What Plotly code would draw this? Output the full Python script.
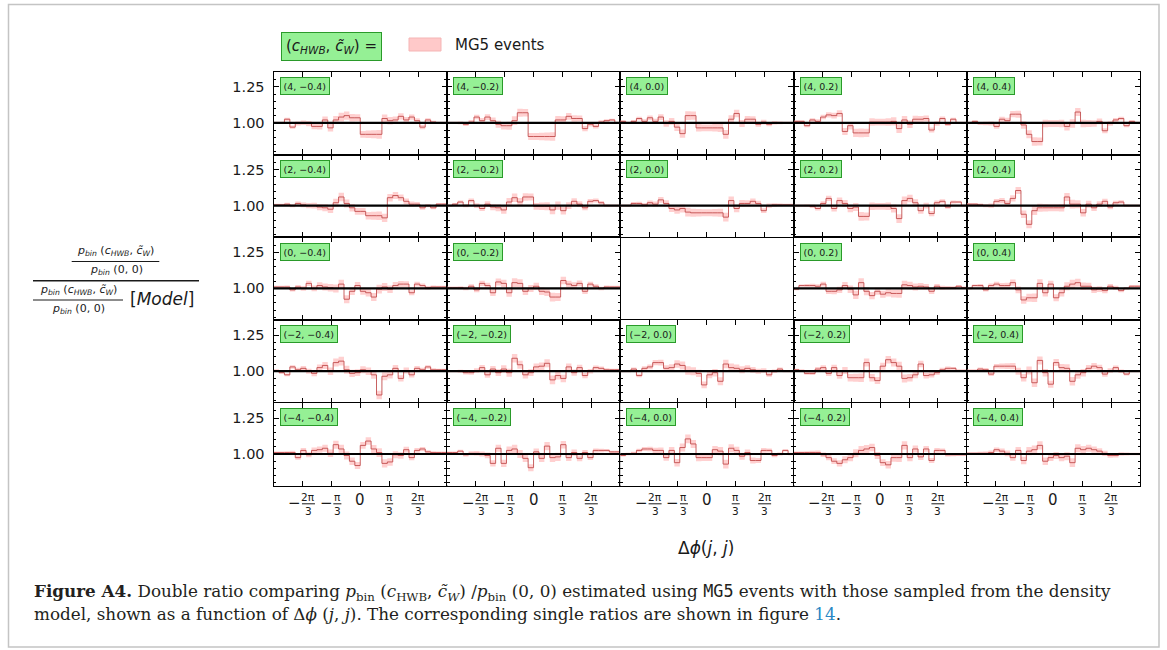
import math
import plotly.graph_objects as go
from plotly.subplots import make_subplots

W, H = 1167, 650

# grid: rows are c_HWB values (top to bottom), columns are c~_W values
c_hwb = [4, 2, 0, -2, -4]
c_w = [-0.4, -0.2, 0.0, 0.2, 0.4]

# 32 equal-width bins of delta phi(j, j) over [-pi, pi]
bin_edges = [-math.pi + k * math.pi / 16 for k in range(33)]

# half-width of the MG5 uncertainty band per bin
band_err = [0.008, 0.008, 0.010, 0.012, 0.014, 0.016, 0.018, 0.020,
            0.022, 0.024, 0.026, 0.028, 0.030, 0.028, 0.026, 0.024,
            0.024, 0.026, 0.028, 0.030, 0.028, 0.026, 0.024, 0.022,
            0.020, 0.018, 0.016, 0.014, 0.012, 0.010, 0.008, 0.008]

# double ratios per panel
r4_m04 = [1.00, 1.00, 1.025, 0.97, 0.995, 1.00, 0.995, 0.975, 0.975, 1.02, 0.965, 1.02, 1.04, 1.05, 1.035, 1.035,
          0.92, 0.92, 0.92, 0.92, 1.03, 1.015, 1.02, 1.045, 1.02, 1.04, 1.015, 0.97, 1.02, 1.005, 1.00, 1.00]
r4_m02 = [1.00, 1.00, 1.00, 0.99, 1.005, 1.04, 1.015, 1.04, 1.015, 0.99, 0.98, 0.98, 1.015, 1.07, 1.07, 0.905,
          0.905, 0.905, 0.905, 0.905, 1.02, 1.02, 1.045, 1.03, 1.03, 0.96, 0.99, 0.975, 1.005, 1.015, 1.02, 1.00]
r4_00 = [1.01, 1.00, 1.01, 1.03, 1.01, 1.035, 1.01, 1.04, 0.995, 1.01, 0.97, 0.925, 1.05, 1.05, 0.965, 0.965,
         0.965, 0.965, 0.965, 0.92, 1.025, 1.065, 0.995, 1.025, 1.025, 0.99, 1.005, 0.99, 1.00, 1.00, 1.00, 1.00]
r4_p02 = [1.01, 1.01, 0.98, 1.02, 1.01, 1.04, 1.055, 1.05, 1.065, 0.94, 0.98, 0.93, 0.93, 0.93, 1.005, 1.005,
          1.005, 1.005, 1.01, 0.96, 1.02, 0.99, 1.025, 1.025, 1.03, 0.95, 0.995, 1.03, 0.99, 1.025, 1.00, 1.00]
r4_p04 = [1.00, 1.01, 0.995, 0.995, 0.995, 0.975, 1.025, 1.015, 1.06, 1.06, 0.985, 0.92, 0.87, 0.87, 0.995, 0.995,
          0.995, 0.995, 0.975, 0.995, 1.075, 0.995, 0.995, 0.995, 1.01, 0.945, 0.995, 1.02, 1.03, 0.98, 1.01, 1.00]

r2_m04 = [1.005, 1.005, 1.01, 1.00, 1.015, 1.005, 1.00, 1.00, 0.99, 0.985, 0.975, 1.02, 1.06, 1.015, 0.985, 0.96,
          0.96, 0.93, 0.93, 0.93, 0.915, 1.055, 1.07, 1.055, 1.03, 1.01, 1.01, 0.985, 1.00, 0.985, 1.01, 1.01]
r2_m02 = [1.00, 1.01, 1.025, 1.00, 1.035, 1.00, 0.98, 1.01, 0.99, 0.985, 0.97, 1.025, 1.055, 1.025, 1.06, 1.06,
          0.995, 0.995, 0.995, 0.97, 1.00, 0.965, 1.00, 1.03, 1.01, 0.985, 1.03, 1.035, 1.02, 1.00, 1.00, 1.00]
r2_00 = [1.00, 1.00, 1.015, 1.015, 1.005, 1.02, 1.01, 1.04, 1.015, 0.98, 0.97, 0.98, 0.955, 0.95, 0.95, 0.95,
         0.95, 0.95, 0.95, 0.92, 1.035, 0.98, 1.015, 1.015, 1.03, 1.015, 0.965, 1.00, 1.005, 1.005, 1.005, 1.005]
r2_p02 = [1.00, 1.00, 1.00, 0.995, 0.98, 1.015, 1.05, 0.98, 1.035, 1.015, 0.98, 0.99, 0.925, 0.925, 0.995, 0.995,
          0.995, 0.995, 0.98, 0.91, 1.035, 1.05, 1.02, 0.965, 1.00, 0.945, 1.02, 1.03, 0.99, 1.025, 1.025, 1.00]
r2_p04 = [1.01, 1.01, 1.005, 1.00, 1.00, 1.03, 1.035, 1.015, 1.05, 1.105, 0.94, 0.87, 0.965, 0.985, 0.985, 0.985,
          0.985, 0.985, 1.06, 1.01, 1.01, 0.95, 1.01, 0.985, 1.01, 1.03, 0.99, 1.02, 1.025, 1.00, 1.00, 1.00]

r0_m04 = [1.01, 1.01, 1.01, 0.99, 1.01, 1.00, 1.035, 1.00, 1.02, 1.01, 1.005, 1.00, 1.03, 0.925, 0.98, 1.02,
          0.98, 0.97, 0.94, 0.995, 1.01, 0.995, 1.02, 1.03, 1.03, 0.97, 1.03, 1.02, 1.005, 1.01, 1.01, 1.01]
r0_m02 = [1.005, 1.005, 1.005, 1.00, 1.015, 0.99, 1.035, 1.02, 0.97, 1.045, 1.035, 0.97, 1.04, 1.035, 0.98, 1.00,
          1.015, 0.98, 0.975, 0.94, 0.94, 1.055, 1.03, 1.02, 1.035, 0.98, 1.03, 1.015, 1.00, 1.01, 1.01, 1.01]
r0_p02 = [0.995, 1.02, 1.02, 1.02, 1.015, 1.03, 0.98, 0.98, 0.99, 1.02, 0.995, 0.955, 1.04, 0.98, 0.95, 0.98,
          0.96, 0.97, 0.965, 0.965, 1.025, 1.02, 1.01, 1.015, 1.01, 0.98, 1.015, 1.005, 1.005, 1.005, 1.015, 1.005]
r0_p04 = [1.00, 1.02, 1.02, 0.99, 1.02, 1.03, 1.02, 1.02, 1.04, 0.99, 0.92, 0.935, 0.935, 1.035, 0.97, 1.03,
          0.935, 0.97, 1.015, 1.03, 1.04, 1.015, 1.015, 0.99, 0.995, 0.985, 1.015, 1.005, 0.985, 1.00, 1.015, 1.015]

rm2_m04 = [1.005, 0.99, 0.975, 1.03, 1.01, 1.02, 1.00, 0.985, 1.025, 1.04, 1.00, 1.06, 1.07, 1.01, 0.985, 0.99,
           1.01, 1.00, 0.975, 0.835, 0.965, 0.975, 1.02, 0.95, 1.005, 0.975, 1.02, 1.01, 1.03, 1.01, 1.01, 1.01]
rm2_m02 = [1.00, 1.00, 1.00, 0.99, 0.99, 1.005, 1.025, 0.975, 1.015, 0.99, 1.015, 0.99, 1.09, 1.045, 0.975, 0.99,
           1.03, 1.035, 1.055, 0.94, 0.97, 0.95, 1.03, 0.99, 1.025, 0.97, 1.00, 1.025, 1.02, 1.01, 1.01, 1.01]
rm2_00 = [1.00, 1.00, 1.015, 0.97, 1.02, 1.03, 1.06, 1.06, 1.02, 1.025, 1.05, 1.04, 1.005, 1.00, 0.985, 0.905,
          0.975, 0.99, 0.93, 1.05, 1.025, 1.02, 1.01, 1.02, 1.01, 1.00, 1.005, 0.975, 1.00, 1.015, 1.00, 1.00]
rm2_p02 = [1.01, 1.005, 0.985, 0.985, 1.015, 1.025, 0.985, 1.025, 0.97, 1.005, 0.955, 0.955, 0.955, 1.06, 0.955, 0.935,
           1.035, 1.08, 1.06, 1.035, 0.95, 0.955, 0.975, 1.05, 0.97, 0.975, 0.99, 1.01, 1.02, 1.02, 1.005, 1.005]
rm2_p04 = [1.005, 1.005, 1.015, 1.01, 0.98, 1.035, 1.035, 1.035, 1.035, 1.00, 0.955, 1.005, 0.92, 1.075, 0.99, 0.91,
           1.06, 1.025, 1.02, 0.93, 0.975, 0.99, 1.02, 1.035, 1.025, 0.98, 1.005, 1.025, 1.00, 0.98, 1.00, 1.00]

rm4_m04 = [1.01, 1.01, 1.01, 1.01, 0.975, 1.025, 0.995, 1.025, 1.03, 1.04, 1.005, 1.065, 1.035, 0.99, 0.95, 0.92,
           1.06, 1.09, 1.035, 1.01, 0.935, 0.945, 0.995, 0.99, 1.03, 0.975, 1.025, 1.035, 1.015, 1.01, 1.01, 1.01]
rm4_m02 = [1.01, 1.01, 1.02, 0.995, 1.005, 1.005, 1.00, 0.99, 0.935, 1.04, 0.935, 1.025, 1.035, 1.00, 0.97, 0.905,
           1.015, 0.97, 1.055, 0.975, 0.98, 1.065, 0.975, 1.01, 0.97, 1.01, 0.975, 1.025, 1.025, 1.025, 1.015, 1.015]
rm4_00 = [0.99, 1.00, 1.005, 1.025, 1.035, 1.035, 1.025, 1.025, 0.975, 1.025, 0.94, 1.045, 1.105, 1.07, 0.975, 0.975,
          0.975, 1.03, 1.02, 0.93, 1.04, 1.025, 0.985, 1.01, 0.955, 0.955, 1.025, 1.025, 0.99, 1.00, 1.025, 1.00]
rm4_p02 = [1.01, 1.01, 1.01, 1.01, 1.01, 0.995, 0.975, 0.95, 0.935, 0.96, 0.975, 1.005, 1.025, 1.035, 1.045, 0.99,
           0.94, 0.925, 0.975, 0.975, 1.06, 0.975, 1.035, 0.98, 1.035, 0.955, 1.025, 1.025, 0.995, 0.995, 0.995, 0.995]
rm4_p04 = [1.005, 1.005, 1.005, 1.005, 1.01, 1.03, 1.02, 1.005, 0.975, 1.025, 0.955, 1.02, 1.03, 1.06, 0.95, 0.975,
           0.99, 0.975, 0.985, 0.94, 1.04, 1.03, 1.04, 1.03, 1.02, 1.005, 0.99, 0.99, 1.00, 1.00, 1.00, 1.00]

# the (0, 0.0) point is the reference and is left empty
grid = [
    [r4_m04, r4_m02, r4_00, r4_p02, r4_p04],
    [r2_m04, r2_m02, r2_00, r2_p02, r2_p04],
    [r0_m04, r0_m02, None, r0_p02, r0_p04],
    [rm2_m04, rm2_m02, rm2_00, rm2_p02, rm2_p04],
    [rm4_m04, rm4_m02, rm4_00, rm4_p02, rm4_p04],
]

x_tick_vals = [-2 * math.pi / 3, -math.pi / 3, 0.0, math.pi / 3, 2 * math.pi / 3]
y_tick_vals = [1.00, 1.25]
y_tick_text = ["1.00", "1.25"]
y_range = [0.78, 1.355]

SANS = "DejaVu Sans"
SERIF = "DejaVu Serif"
INK = "#1a1a1a"


def fx(x):
    return x / W


def fy(y):
    return 1 - y / H


def num(v):
    s = f"{v:.1f}" if isinstance(v, float) else str(v)
    return s.replace("-", "\u2212")


# panel geometry in pixels
col_left = [273.6, 446.9, 620.2, 793.5, 966.8]
col_w = 173.3
row_top = [71.7, 154.5, 237.3, 320.1, 402.9]
row_h = 82.8

specs = [[{} for _ in range(5)] for _ in range(5)]
specs[2][2] = None
fig = make_subplots(rows=5, cols=5, specs=specs, horizontal_spacing=0.0, vertical_spacing=0.0)

annotations = []
shapes = []

x_steps = bin_edges

for ri in range(5):
    for ci in range(5):
        vals = grid[ri][ci]
        if vals is None:
            continue
        r, c = ri + 1, ci + 1
        y_mid = vals + [vals[-1]]
        y_lo = [v - e for v, e in zip(vals, band_err)] + [vals[-1] - band_err[-1]]
        y_hi = [v + e for v, e in zip(vals, band_err)] + [vals[-1] + band_err[-1]]
        fig.add_trace(go.Scatter(x=x_steps, y=y_lo, mode="lines", line=dict(width=0, shape="hv"),
                                 hoverinfo="skip", showlegend=False), row=r, col=c)
        fig.add_trace(go.Scatter(x=x_steps, y=y_hi, mode="lines", line=dict(width=0, shape="hv"),
                                 fill="tonexty", fillcolor="rgba(255,170,170,0.55)",
                                 hoverinfo="skip", showlegend=False), row=r, col=c)
        fig.add_trace(go.Scatter(x=x_steps, y=y_mid, mode="lines",
                                 line=dict(width=1, shape="hv", color="rgba(190,70,70,0.85)"),
                                 hoverinfo="skip", showlegend=False), row=r, col=c)
        fig.add_trace(go.Scatter(x=[-math.pi, math.pi], y=[1.0, 1.0], mode="lines",
                                 line=dict(width=2.2, color="black"),
                                 hoverinfo="skip", showlegend=False), row=r, col=c)

        x0 = col_left[ci]
        y0 = row_top[ri]
        fig.update_xaxes(domain=[fx(x0), fx(x0 + col_w)], row=r, col=c)
        fig.update_yaxes(domain=[fy(y0 + row_h), fy(y0)], row=r, col=c)

        sp = fig.get_subplot(r, c)
        xa = sp.xaxis.plotly_name.replace("axis", "")
        ya = sp.yaxis.plotly_name.replace("axis", "")
        annotations.append(dict(
            text=f"({num(c_hwb[ri])}, {num(c_w[ci])})", xref=f"{xa} domain", yref=f"{ya} domain",
            x=0.036, y=0.935, xanchor="left", yanchor="top", showarrow=False,
            font=dict(family=SANS, size=9.5, color=INK), bgcolor="#95f095",
            bordercolor="#2a9a2a", borderwidth=1, borderpad=2.5))

fig.update_xaxes(range=[-math.pi, math.pi], tickvals=x_tick_vals, ticks="inside", ticklen=5,
                 tickwidth=1, tickcolor="black", showticklabels=False, showline=True,
                 linecolor="black", linewidth=1.2, mirror="ticks", showgrid=False, zeroline=False)
fig.update_yaxes(range=y_range, tickvals=y_tick_vals, ticktext=y_tick_text, ticks="inside", ticklen=5,
                 tickwidth=1, tickcolor="black", showline=True, linecolor="black", linewidth=1.2,
                 mirror="ticks", showgrid=False, zeroline=False, showticklabels=False,
                 minor=dict(tick0=1.0, dtick=0.05, ticks="inside", ticklen=2.5, tickcolor="black",
                            tickwidth=1, showgrid=False))
fig.update_yaxes(showticklabels=True, tickfont=dict(family=SANS, size=14.5, color=INK),
                 ticklabelstandoff=5, col=1)

# stacked-fraction tick labels under the bottom row
frac_labels = [("2\u03c0", "3", True, 13), ("\u03c0", "3", True, 8), (None, None, False, 0),
               ("\u03c0", "3", False, 8), ("2\u03c0", "3", False, 13)]
for ci in range(5):
    sp = fig.get_subplot(5, ci + 1)
    xa = sp.xaxis.plotly_name.replace("axis", "")
    for tv, (nu, de, neg, bw) in zip(x_tick_vals, frac_labels):
        if nu is None:
            annotations.append(dict(text="0", xref=xa, yref="paper", x=tv, y=fy(499.5),
                                    showarrow=False, xanchor="center", yanchor="middle",
                                    font=dict(family=SANS, size=15, color=INK)))
            continue
        total = (12 + bw) if neg else bw
        fc = total / 2 - bw / 2 if neg else 0.0
        if neg:
            annotations.append(dict(text="\u2212", xref=xa, yref="paper", x=tv, y=fy(502.5),
                                    xshift=-total / 2 + 5, showarrow=False, xanchor="center",
                                    yanchor="middle", font=dict(family=SANS, size=15, color=INK)))
        annotations.append(dict(text=nu, xref=xa, yref="paper", x=tv, y=fy(497.5), xshift=fc,
                                showarrow=False, xanchor="center", yanchor="middle",
                                font=dict(family=SANS, size=10.5, color=INK)))
        annotations.append(dict(text=de, xref=xa, yref="paper", x=tv, y=fy(510.5), xshift=fc,
                                showarrow=False, xanchor="center", yanchor="middle",
                                font=dict(family=SANS, size=10.5, color=INK)))
        shapes.append(dict(type="line", xref=xa, yref="paper", xsizemode="pixel", xanchor=tv,
                           x0=fc - bw / 2, x1=fc + bw / 2, y0=fy(503.8), y1=fy(503.8),
                           line=dict(color=INK, width=1)))

# header: parameter box and MG5 legend entry
annotations.append(dict(text="(<i>c</i><sub><i>HWB</i></sub>, <i>c\u0303</i><sub><i>W</i></sub>) =",
                        xref="paper", yref="paper", x=fx(280.5), y=fy(47), xanchor="left",
                        yanchor="middle", showarrow=False, font=dict(family=SANS, size=15, color=INK),
                        bgcolor="#95f095", bordercolor="#2a9a2a", borderwidth=1, borderpad=4))
shapes.append(dict(type="rect", xref="paper", yref="paper", x0=fx(409), x1=fx(441), y0=fy(38), y1=fy(51),
                   fillcolor="#ffc9c9", line=dict(color="#f5b5b5", width=1)))
annotations.append(dict(text="MG5 events", xref="paper", yref="paper", x=fx(453), y=fy(45),
                        xanchor="left", yanchor="middle", showarrow=False,
                        font=dict(family=SANS, size=15, color=INK)))

# y-axis title: ratio of ratios
p_num = "<i>p</i><sub><i>bin</i></sub> (<i>c</i><sub><i>HWB</i></sub>, <i>c\u0303</i><sub><i>W</i></sub>)"
p_den = "<i>p</i><sub><i>bin</i></sub> (0, 0)"
for txt, cx, cy in [(p_num, 115.5, 251.0), (p_den, 116.0, 270.0), (p_num, 78.0, 290.0), (p_den, 78.5, 309.0)]:
    annotations.append(dict(text=txt, xref="paper", yref="paper", x=fx(cx), y=fy(cy), xanchor="center",
                            yanchor="middle", showarrow=False, font=dict(family=SANS, size=11, color=INK)))
for xa0, xa1, yy, lw in [(71.7, 159.3, 261.5, 1.0), (33.0, 199.0, 280.7, 1.6), (33.0, 123.0, 300.0, 1.0)]:
    shapes.append(dict(type="line", xref="paper", yref="paper", x0=fx(xa0), x1=fx(xa1), y0=fy(yy), y1=fy(yy),
                       line=dict(color=INK, width=lw)))
annotations.append(dict(text="[<i>Model</i>]", xref="paper", yref="paper", x=fx(128), y=fy(299),
                        xanchor="left", yanchor="middle", showarrow=False,
                        font=dict(family=SANS, size=17, color=INK)))

# x-axis title
annotations.append(dict(text="\u0394<i>\u03d5</i>(<i>j</i>, <i>j</i>)", xref="paper", yref="paper",
                        x=fx(706), y=fy(548), xanchor="center", yanchor="middle", showarrow=False,
                        font=dict(family=SANS, size=17, color=INK)))

# caption
cap1 = ("<b>Figure A4.</b> Double ratio comparing <i>p</i><sub>bin</sub> (<i>c</i><sub>HWB</sub>, "
        "<i>c\u0303</i><sub><i>W</i></sub>) /<i>p</i><sub>bin</sub> (0, 0) estimated using "
        "<span style='font-family:DejaVu Sans Mono'>MG5</span> events with those sampled from the density")
cap2 = ("model, shown as a function of \u0394<i>\u03d5</i> (<i>j</i>, <i>j</i>). The corresponding single "
        "ratios are shown in figure <span style='color:#2a87c4'>14</span>.")
for txt, cy in [(cap1, 592), (cap2, 614)]:
    annotations.append(dict(text=txt, xref="paper", yref="paper", x=fx(32), y=fy(cy), xanchor="left",
                            yanchor="middle", showarrow=False, font=dict(family=SERIF, size=16.8, color="#231f20")))

# page frame
shapes.append(dict(type="rect", xref="paper", yref="paper", x0=fx(8.5), x1=fx(1159), y0=fy(4.5), y1=fy(647),
                   line=dict(color="#c4c4c4", width=1.5), fillcolor="rgba(0,0,0,0)", layer="below"))

fig.update_layout(width=W, height=H, autosize=False, margin=dict(l=0, r=0, t=0, b=0),
                  paper_bgcolor="white", plot_bgcolor="white", showlegend=False,
                  annotations=annotations, shapes=shapes)

fig.write_html("out.html")
